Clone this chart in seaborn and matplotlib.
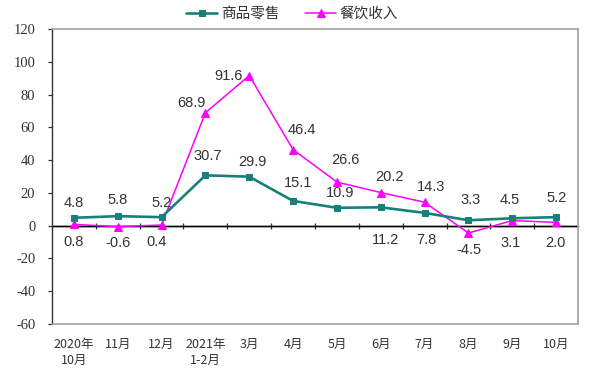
import numpy as np
import pandas as pd
import matplotlib
matplotlib.use('Agg')
import matplotlib.pyplot as plt
from matplotlib.font_manager import FontProperties
import seaborn as sns

# ---- data ----
categories = ['2020年\n10月', '11月', '12月', '2021年\n1-2月', '3月', '4月',
              '5月', '6月', '7月', '8月', '9月', '10月']
retail = [4.8, 5.8, 5.2, 30.7, 29.9, 15.1, 10.9, 11.2, 7.8, 3.3, 4.5, 5.2]
catering = [0.8, -0.6, 0.4, 68.9, 91.6, 46.4, 26.6, 20.2, 14.3, -4.5, 3.1, 2.0]
series_names = ['商品零售', '餐饮收入']
y_ticks = list(range(-60, 121, 20))

# ---- style: label offsets in pixels ----
retail_off = [(0, 15), (0, 16), (0, 14), (2, 19), (3, 15), (5, 18), (3, 15),
              (5, -33), (2, -27), (2, 20), (-2, 18), (0, 19)]
catering_off = [(0, -18), (0, -16), (-5, -17), (-14, 10), (-21, 0), (9, 20),
                (9, 22), (9, 16), (6, 15), (1, -17), (-2, -22), (-1, -21)]

TEAL = '#17807A'
MAGENTA = '#FF00FF'
CJK = ['Noto Sans CJK SC', 'DejaVu Sans']

sns.set_style('white')
plt.rcParams['font.family'] = CJK

df_r = pd.DataFrame({'idx': range(len(categories)), 'value': retail})
df_c = pd.DataFrame({'idx': range(len(categories)), 'value': catering})

fig = plt.figure(figsize=(6.04, 3.91), dpi=100)
ax = fig.add_axes([52 / 604, 1 - 324 / 391, 526 / 604, 295 / 391])

# zero axis with boundary ticks
ax.axhline(0, color='black', lw=1.0, zorder=1)
sec = ax.secondary_xaxis(0, transform=ax.transData)
sec.set_xticks([i + 0.5 for i in range(len(categories) - 1)])
sec.set_xticklabels([])
sec.tick_params(axis='x', direction='inout', length=5, width=0.9, color='#333333')
sec.spines['bottom'].set_color('black')
sec.spines['bottom'].set_linewidth(1.0)

sns.lineplot(data=df_c, x='idx', y='value', ax=ax, color=MAGENTA, lw=1.1,
             marker='^', markersize=6, markeredgecolor=MAGENTA,
             label=series_names[1], zorder=3)
sns.lineplot(data=df_r, x='idx', y='value', ax=ax, color=TEAL, lw=1.9,
             marker='s', markersize=5, markeredgecolor=TEAL,
             label=series_names[0], zorder=4)

handles, labels = ax.get_legend_handles_labels()
if ax.get_legend() is not None:
    ax.get_legend().remove()
order = [labels.index(n) for n in series_names]
fig.legend([handles[i] for i in order], [labels[i] for i in order],
           loc='center', bbox_to_anchor=(0.484, 0.964), ncol=2, frameon=False,
           handlelength=2.1, handletextpad=0.25, columnspacing=1.8,
           prop=FontProperties(family=CJK, size=10.5), labelcolor='#333333')

for i, v in enumerate(retail):
    ax.annotate(f'{v:.1f}', xy=(i, v), xytext=retail_off[i],
                textcoords='offset pixels', ha='center', va='center',
                fontsize=10.5, family='Liberation Sans', color='#333333', zorder=5)
for i, v in enumerate(catering):
    ax.annotate(f'{v:.1f}', xy=(i, v), xytext=catering_off[i],
                textcoords='offset pixels', ha='center', va='center',
                fontsize=10.5, family='Liberation Sans', color='#333333', zorder=5)

ax.set_xlim(-0.5, len(categories) - 0.5)
ax.set_ylim(-60, 120)
ax.set_yticks(y_ticks)
ax.set_yticklabels([str(t) for t in y_ticks], family='Liberation Serif',
                   fontsize=10.5, color='#333333')
ax.set_xticks(range(len(categories)))
ax.set_xticklabels(categories, fontsize=9, color='#333333')
for lbl in ax.get_xticklabels():
    lbl.set_linespacing(1.35)
ax.tick_params(axis='x', length=0, pad=10)
ax.tick_params(axis='y', direction='out', length=3, width=0.9, pad=9,
               left=True, color='#333333')
ax.set_xlabel('')
ax.set_ylabel('')

for s in ['top', 'right', 'bottom']:
    ax.spines[s].set_color('#A0A0A0')
    ax.spines[s].set_linewidth(1.2)
ax.spines['left'].set_color('#333333')
ax.spines['left'].set_linewidth(1.0)

fig.savefig('out.png', dpi=100)
